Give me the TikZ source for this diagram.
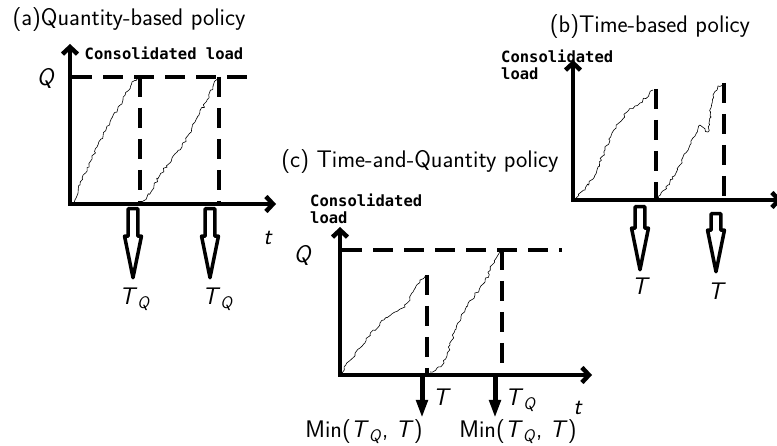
\documentclass[tikz,border=0pt]{standalone}
\usepackage{amsmath}
\usepackage{fontspec}
\newfontfamily\loadfont{DejaVu Sans Mono}
\usetikzlibrary{arrows.meta,shapes.arrows,decorations.pathmorphing}
\newcommand{\sfi}[1]{\textsf{\textit{#1}}}

\begin{document}
\begin{tikzpicture}[x=1pt,y=-1pt,
  axis/.style={line width=4.5pt,line join=miter,{Straight Barb[length=7pt,width=15pt]}-{Straight Barb[length=7pt,width=15pt]}},
  level/.style={line width=4.5pt,dash pattern=on 20pt off 11pt},
  walk/.style={line width=0.6pt,line join=round,decorate,decoration={random steps,segment length=2.5pt,amplitude=1.4pt}},
  hollow/.style={single arrow,draw,fill=white,line width=3.5pt,line join=round,shape border rotate=270,inner sep=3.2pt,single arrow head extend=3.5pt,single arrow tip angle=23,anchor=tail},
  solidarr/.style={line width=5pt,-{Triangle[length=18pt,width=11pt]}},
  title/.style={font=\sffamily\fontsize{24}{28}\selectfont,inner sep=0pt},
  lbl/.style={font=\fontsize{24}{28}\selectfont,inner sep=0pt},
  load/.style={font=\loadfont\bfseries\fontsize{15.5}{17}\selectfont,align=left,inner sep=0pt}]
\useasboundingbox (0,0) rectangle (777,446);
\pgfmathsetseed{11}

\node[title] (ta) at (129,20) {(a)Quantity-based policy};
\node[load] (la) at (164,53) {Consolidated load};
\draw[axis] (70,44) coordinate (ya) -- (70,204) coordinate (oa) -- (276,204) coordinate (xa);
\draw[level] (72,77) -- (258,77);
\draw[level] (140,77) -- (140,204);
\draw[level] (219,77) -- (219,204);
\draw[walk] (74,203) -- (80,185) -- (90,162) -- (97,147) -- (110,122) -- (123,100) -- (132,82) -- (138,78);
\draw[walk] (142,203) -- (147,197) -- (160,175) -- (172,158) -- (182,147) -- (195,122) -- (207,100) -- (213,86) -- (218,78);
\node[lbl] (qa) at (46,78) {$\sfi{Q}$};
\node[lbl] (tta) at (268,238) {$\sfi{t}$};
\node[hollow,minimum height=69pt,minimum width=14pt] (arA1) at (133,207) {};
\node[hollow,minimum height=69pt,minimum width=14pt] (arA2) at (210,207) {};
\node[lbl] (tqA1) at (135,299) {$\sfi{T}_{\sfi{Q}}$};
\node[lbl] (tqA2) at (218,299) {$\sfi{T}_{\sfi{Q}}$};

\node[title] (tb) at (650,27) {(b)Time-based policy};
\node[load,anchor=north west] (lb) at (501,50) {Consolidated\\load};
\draw[axis] (573,60) coordinate (yb) -- (573,200) coordinate (ob) -- (782,200) coordinate (xb);
\draw[level] (656,89) -- (656,200);
\draw[level] (724,83) -- (724,200);
\draw[walk] (576,198) -- (585,190) -- (597,170) -- (605,150) -- (612,133) -- (627,112) -- (640,103) -- (653,90);
\draw[walk] (658,199) -- (668,185) -- (680,165) -- (690,145) -- (700,125) -- (708,132) -- (713,95) -- (718,86) -- (723,85);
\node[hollow,minimum height=63pt,minimum width=14pt] (arB1) at (640,205) {};
\node[hollow,minimum height=58pt,minimum width=14pt] (arB2) at (716,212) {};
\node[lbl] (tB1) at (641,286) {$\sfi{T}$};
\node[lbl] (tB2) at (717,291) {$\sfi{T}$};

\node[title] (tc) at (420,162) {(c) Time-and-Quantity policy};
\node[load,anchor=north west] (lc) at (310,194) {Consolidated\\load};
\draw[axis] (340,227) coordinate (yc) -- (340,375) coordinate (oc) -- (592,375) coordinate (xc);
\draw[level] (342,250) -- (562,250);
\draw[level] (427,275) -- (427,375);
\draw[level] (502,250) -- (502,375);
\draw[walk] (342,373) -- (348,362) -- (360,348) -- (370,335) -- (380,323) -- (395,312) -- (405,307) -- (413,292) -- (420,280) -- (425,276);
\draw[walk] (430,372) -- (437,368) -- (444,363) -- (450,345) -- (455,330) -- (465,310) -- (475,295) -- (485,282) -- (492,265) -- (498,255) -- (501,252);
\node[lbl] (qc) at (303,255) {$\sfi{Q}$};
\node[lbl] (ttc) at (578,408) {$\sfi{t}$};
\coordinate (c1) at (422,377);
\coordinate (c1e) at (422,418);
\coordinate (c2) at (495,377);
\coordinate (c2e) at (495,418);
\draw[solidarr] (c1) -- (c1e);
\draw[solidarr] (c2) -- (c2e);
\node[lbl] (tc1) at (442,397) {$\sfi{T}$};
\node[lbl] (tc2) at (521,400) {$\sfi{T}_{\sfi{Q}}$};
\node[lbl] (mc1) at (364,432) {\textsf{Min(}$\sfi{T}_{\sfi{Q}}$\textsf{,} $\sfi{T}$\textsf{)}};
\node[lbl] (mc2) at (518,432) {\textsf{Min(}$\sfi{T}_{\sfi{Q}}$\textsf{,} $\sfi{T}$\textsf{)}};
\end{tikzpicture}
\end{document}
